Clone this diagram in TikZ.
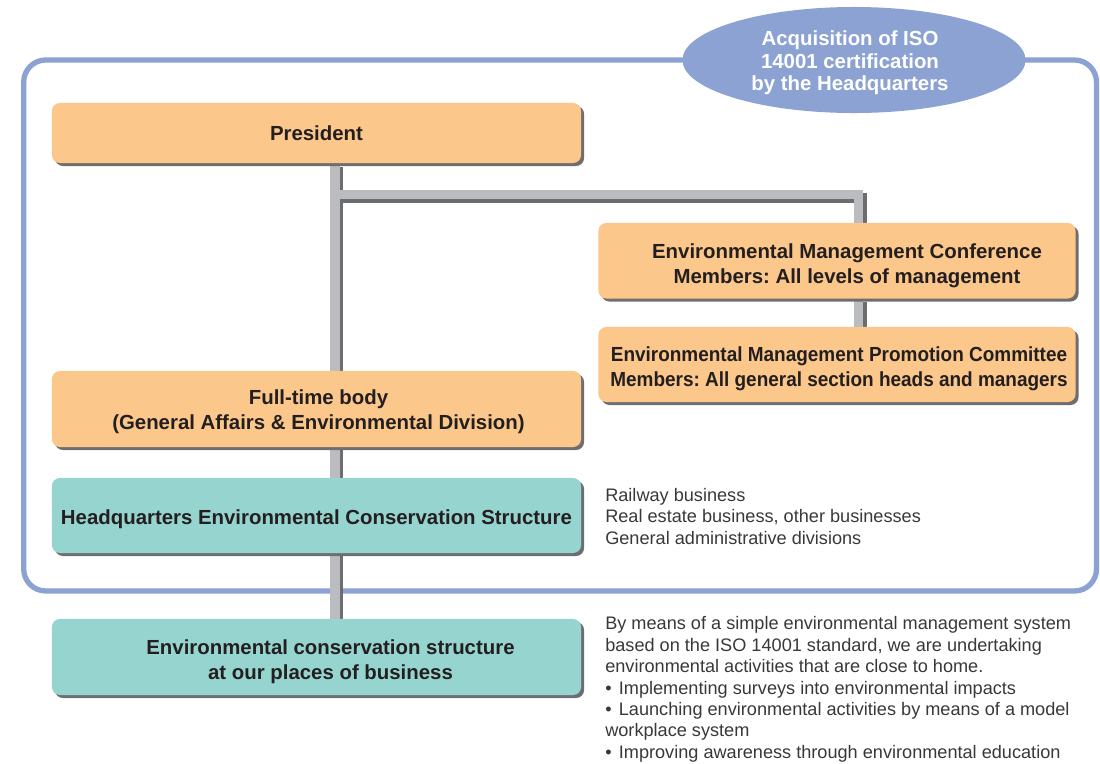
\documentclass[tikz,border=0pt]{standalone}
\usepackage{fontspec}
\setmainfont{Liberation Sans}
\newfontfamily\narrowsans[FakeStretch=0.93]{Liberation Sans}
\usetikzlibrary{shapes.geometric,shadows}
\definecolor{figline}{HTML}{231F20}
\definecolor{figtext}{HTML}{383838}
\definecolor{orgfill}{HTML}{FBC78B}
\definecolor{tealfill}{HTML}{96D4CF}
\definecolor{hqblue}{HTML}{8CA2D2}
\definecolor{barlight}{HTML}{BBBCC0}
\definecolor{bardark}{HTML}{6C6D70}
\definecolor{boxshade}{HTML}{6E6E6E}
\pgfdeclarelayer{frame}
\pgfdeclarelayer{bars}
\pgfsetlayers{frame,bars,main}
\frenchspacing
\tikzset{
  boxtxt/.style ={inner sep=0pt, align=center, text=figline,
                  font=\fontsize{14.5}{17.8}\selectfont\bfseries},
  narrowtxt/.style ={boxtxt, font=\narrowsans\fontsize{14.5}{17.8}\selectfont\bfseries},
  box/.style    ={boxtxt, rounded corners=0.2cm,
                  drop shadow={shadow xshift=0.075cm, shadow yshift=-0.075cm, fill=boxshade, opacity=1}},
  orbox/.style  ={box, fill=orgfill},
  tlbox/.style  ={box, fill=tealfill},
  bar/.style    ={draw=barlight, line width=0.2375cm},
  barsh/.style  ={draw=bardark, line width=0.2375cm, transform canvas={xshift=0.0875cm, yshift=-0.0875cm}},
  note/.style   ={anchor=north west, inner sep=0pt, align=left, text=figtext,
                  font=\fontsize{12.9}{15.2}\selectfont},
}

\begin{document}
\begin{tikzpicture}[x=0.025cm, y=-0.025cm]
  \useasboundingbox (0,0) rectangle (1100,764);
  % headquarters frame
  \begin{pgfonlayer}{frame}
  \draw[hqblue, line width=0.1325cm, rounded corners=0.55cm] (23.7,60) rectangle (1096.5,591);
  \end{pgfonlayer}
  \node[ellipse, fill=hqblue, inner sep=0pt, minimum width=8.575cm, minimum height=2.65cm,
        label={[text=white, align=center, inner sep=0pt, font=\fontsize{14.5}{16}\selectfont\bfseries,
                xshift=-0.1cm, yshift=-0.075cm]center:{Acquisition of ISO\\14001 certification\\by the Headquarters}}]
        (iso) at (854,60) {};

  % boxes
  \node[orbox, minimum width=13.225cm, minimum height=1.5cm] (president) at (316.5,133) {President};
  \node[orbox, minimum width=11.925cm, minimum height=1.89cm,
        label={[boxtxt, xshift=0.25cm, yshift=-0.13cm]center:{Environmental Management Conference\\Members: All levels of management}}]
        (emc) at (837,260.75) {};
  \node[orbox, minimum width=11.925cm, minimum height=1.875cm,
        label={[narrowtxt, xshift=0.05cm, yshift=-0.11cm]center:{Environmental Management Promotion Committee\\Members: All general section heads and managers}}]
        (empc) at (837,364.5) {};
  \node[orbox, minimum width=13.225cm, minimum height=1.9cm,
        label={[boxtxt, xshift=0.05cm, yshift=-0.06cm]center:{Full-time body\\(General Affairs \& Environmental Division)}}]
        (fulltime) at (316.5,409) {};
  \node[tlbox, minimum width=13.225cm, minimum height=1.875cm,
        label={[boxtxt, yshift=-0.1cm]center:{Headquarters Environmental Conservation Structure}}]
        (hq) at (316.5,515.5) {};
  \node[tlbox, minimum width=13.225cm, minimum height=1.9cm,
        label={[boxtxt, xshift=0.35cm, yshift=-0.11cm]center:{Environmental conservation structure\\at our places of business}}]
        (places) at (316.5,657) {};

  % connecting bars
  \coordinate (trk) at (335,0);
  \coordinate (brn) at (858.5,194.5);
  \begin{pgfonlayer}{bars}
  \foreach \sty in {barsh,bar} {
    \draw[\sty] (president.south -| trk) -- (places.north -| trk);
    \draw[\sty] (brn -| trk) -- (brn) -- (emc.north -| brn);
    \draw[\sty] (emc.south -| brn) -- (empc.north -| brn);
  }
  \end{pgfonlayer}

  % notes on the right
  \node[note] (hqnote) at (605,488)
    {Railway business\\Real estate business, other businesses\\General administrative divisions};
  \node[note] (placenote) at (605,616.5)
    {By means of a simple environmental management system\\
     based on the ISO 14001 standard, we are undertaking\\
     environmental activities that are close to home.\\
     \textbullet\hspace{0.4em}Implementing surveys into environmental impacts\\
     \textbullet\hspace{0.4em}Launching environmental activities by means of a model\\
     workplace system\\
     \textbullet\hspace{0.4em}Improving awareness through environmental education};
\end{tikzpicture}
\end{document}
